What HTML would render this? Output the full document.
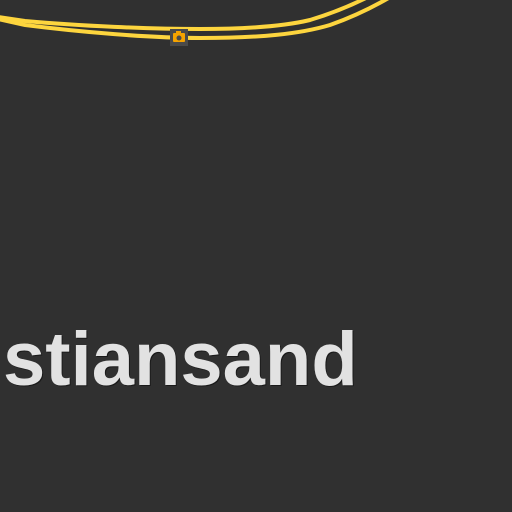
<!DOCTYPE html>
<html><head><meta charset="utf-8"><style>
html,body{margin:0;padding:0;background:#303030;width:512px;height:512px;overflow:hidden}
#map{position:relative;width:512px;height:512px}
.label{position:absolute;left:3px;top:310px;font:bold 76px "Liberation Sans",sans-serif;color:#e2e2e2;text-shadow:1px 1px 0 #1a1a1a;white-space:nowrap;line-height:100px}
</style></head><body>
<div id="map">
<svg width="512" height="512" style="position:absolute;left:0;top:0">
<path d="M-2,17 L25,21 C80,26 150,29 200,29 C250,29 285,26 310,20 C330,14 350,6 368,-3" fill="none" stroke="#fdd53e" stroke-width="4"/>
<path d="M-2,19 L25,25 C80,32 150,38 200,38 C260,38 300,34 330,25 C350,18 370,9 392,-4" fill="none" stroke="#fdd53e" stroke-width="4"/>
<g>
<rect x="170" y="29" width="18" height="17" fill="#4a4a4a"/>
<rect x="173" y="33" width="12" height="9" rx="1" fill="#f5a300"/>
<rect x="176" y="31" width="5" height="3" fill="#f5a300"/>
<circle cx="179" cy="38" r="2.5" fill="#4a4a4a"/>
</g>
</svg>
<div class="label">stiansand</div>
</div>
</body></html>
